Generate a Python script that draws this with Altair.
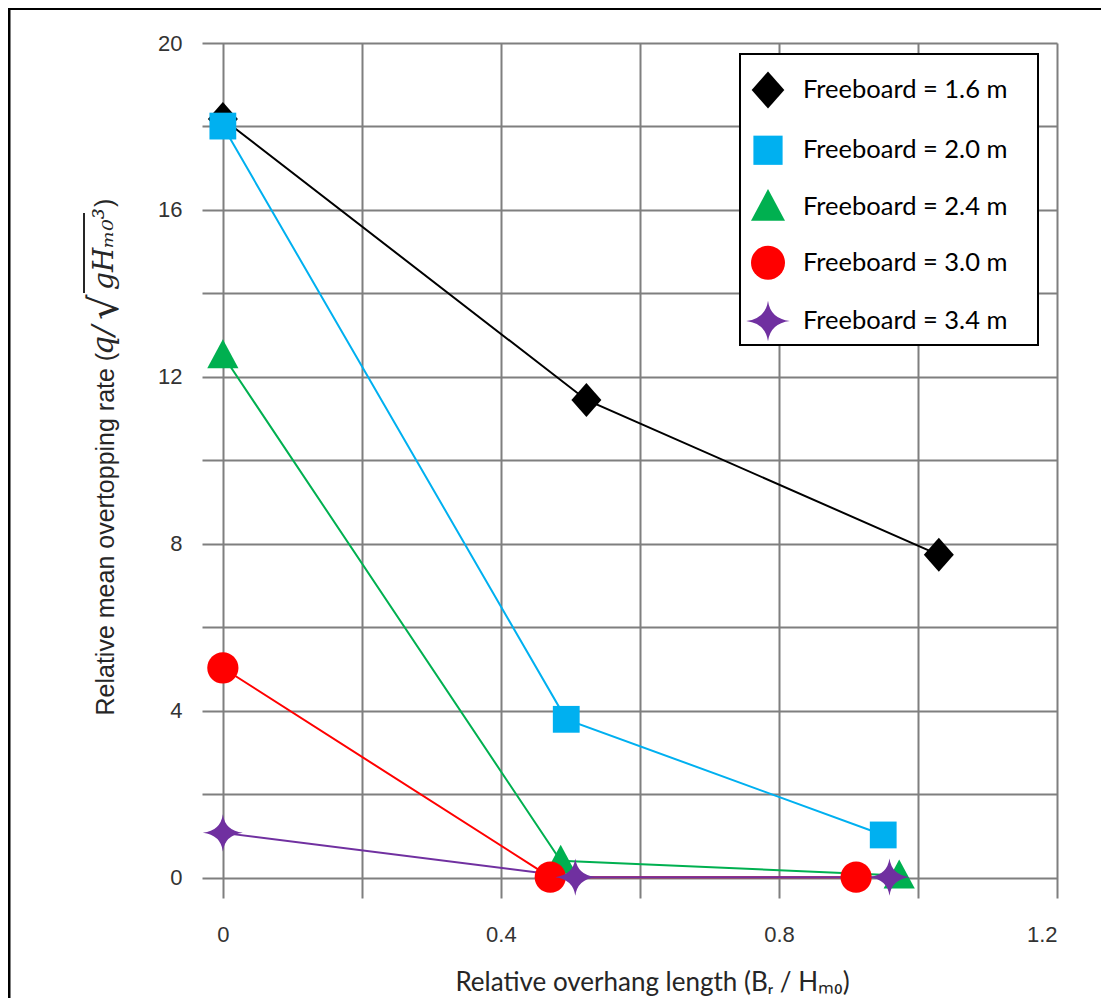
import altair as alt
import pandas as pd

series = ["Freeboard = 1.6 m", "Freeboard = 2.0 m", "Freeboard = 2.4 m",
          "Freeboard = 3.0 m", "Freeboard = 3.4 m"]
x_16 = [0.0, 0.523, 1.030]
y_16 = [18.18, 11.45, 7.74]
x_20 = [0.0, 0.494, 0.950]
y_20 = [18.01, 3.80, 1.03]
x_24 = [0.0, 0.486, 0.973]
y_24 = [12.52, 0.41, 0.06]
x_30 = [0.0, 0.471, 0.911]
y_30 = [5.03, 0.02, 0.02]
x_34 = [0.0, 0.507, 0.959]
y_34 = [1.08, 0.02, 0.02]

x_grid = [0, 0.2, 0.4, 0.6, 0.8, 1.0, 1.2]
x_labels = ["0", "0.4", "0.8", "1.2"]
y_grid = [0, 2, 4, 6, 8, 10, 12, 14, 16, 18, 20]

colors = ["#000000", "#00b0f0", "#00b050", "#ff0000", "#7030a0"]
shapes = [
    "M0,-0.85L0.75,0L0,0.85L-0.75,0Z",
    "M-0.67,-0.67L0.67,-0.67L0.67,0.67L-0.67,0.67Z",
    "M0,-0.8L0.78,0.65L-0.78,0.65Z",
    "M0.78,0A0.78,0.78,0,1,1,-0.78,0A0.78,0.78,0,1,1,0.78,0Z",
    "M0,-0.93Q0.11,-0.11,1,0Q0.11,0.11,0,0.93Q-0.11,0.11,-1,0Q-0.11,-0.11,0,-0.93Z",
]

rows = []
for name, xs, ys in zip(series, [x_16, x_20, x_24, x_30, x_34],
                        [y_16, y_20, y_24, y_30, y_34]):
    for i, (xv, yv) in enumerate(zip(xs, ys)):
        rows.append({"series": name, "x": xv, "y": yv, "order": i})
df = pd.DataFrame(rows)

W, H = 855, 855
xscale = alt.Scale(domain=[-0.03, 1.2], nice=False, zero=False)
yscale = alt.Scale(domain=[-0.48, 20], nice=False, zero=False)
cscale = alt.Scale(domain=series, range=colors)
sscale = alt.Scale(domain=series, range=shapes)

x_enc = alt.X("x:Q", scale=xscale, axis=alt.Axis(
    values=x_grid, format="~g",
    labelExpr="indexof(" + str(x_labels) + ", datum.label) >= 0 ? datum.label : ''",
    title="Relative overhang length (Bᵣ / Hₘ₀)",
    titleX=450, titleY=92, titleBaseline="alphabetic", titleAnchor="start",
    titleAlign="center", labelPadding=26))
y_enc = alt.Y("y:Q", scale=yscale, axis=alt.Axis(
    values=y_grid,
    labelExpr="datum.value % 4 == 0 ? datum.label : ''",
    title="Relative mean overtopping rate (",
    titleAngle=270, titleX=-89, titleY=672, titleAlign="left",
    titleBaseline="alphabetic", labelPadding=20))

leg = alt.Legend(title=None, orient="none", legendX=544, legendY=25,
                 symbolSize=1900, rowPadding=19.25, labelOffset=13)

one = pd.DataFrame({"a": [0]})

frame_left = alt.Chart(one).mark_rule(color="black", strokeWidth=3).encode(
    x=alt.value(-193), y=alt.value(-35), y2=alt.value(1000))
frame_top = alt.Chart(one).mark_rule(color="black", strokeWidth=3).encode(
    x=alt.value(-194), x2=alt.value(910), y=alt.value(-34.5))
legend_box = alt.Chart(one).mark_rect(fill="white", stroke="black", strokeWidth=2).encode(
    x=alt.value(538), x2=alt.value(836), y=alt.value(11), y2=alt.value(302))

tcol = "#262626"
math_q = alt.Chart(one).mark_text(
    text="q/", font="DejaVu Serif", fontStyle="italic", fontSize=30,
    angle=270, align="left", baseline="alphabetic", color=tcol).encode(
    x=alt.value(-89), y=alt.value(312))
math_sqrt = alt.Chart(one).mark_text(
    text="√", font="DejaVu Sans", fontSize=40,
    angle=270, align="left", baseline="alphabetic", color=tcol).encode(
    x=alt.value(-84), y=alt.value(277))
math_g = alt.Chart(one).mark_text(
    text="gHₘ₀³", font="DejaVu Serif", fontStyle="italic", fontSize=28,
    angle=270, align="left", baseline="alphabetic", color=tcol).encode(
    x=alt.value(-89), y=alt.value(247))
math_close = alt.Chart(one).mark_text(
    text=")", font="Liberation Sans", fontSize=25,
    angle=270, align="left", baseline="alphabetic", color=tcol).encode(
    x=alt.value(-89), y=alt.value(164))
math_bar = alt.Chart(one).mark_rule(color=tcol, strokeWidth=2).encode(
    x=alt.value(-118), y=alt.value(250), y2=alt.value(170))

base = alt.Chart(df)
lines = base.mark_line(strokeWidth=2).encode(
    x=x_enc, y=y_enc,
    color=alt.Color("series:N", scale=cscale, legend=leg),
    detail="series:N",
    order="order:Q",
)
points = base.mark_point(filled=True, size=1600, opacity=1, strokeWidth=0).encode(
    x=x_enc, y=y_enc,
    color=alt.Color("series:N", scale=cscale, legend=leg),
    shape=alt.Shape("series:N", scale=sscale, legend=leg),
)

chart = alt.layer(legend_box, lines, points, math_q, math_sqrt, math_g, math_close,
                  math_bar, frame_left, frame_top).properties(
    width=W, height=H,
    autosize=alt.AutoSizeParams(type="none"),
    padding={"left": 194, "top": 35, "right": 44, "bottom": 100},
).configure_view(stroke=None).configure_axis(
    grid=True, gridColor="#7f7f7f", gridWidth=2, gridOpacity=1,
    domain=False, ticks=False, tickSize=0,
    labelFont="Liberation Sans", labelFontSize=22, labelColor="#333333",
    titleFont="Lato", titleFontSize=26, titleFontWeight="normal", titleColor="#262626",
).configure_axisY(
    titleFont="Liberation Sans", titleFontSize=25,
).configure_legend(
    padding=0, symbolStrokeWidth=0,
    labelFont="Lato", labelFontSize=25.5, labelColor="#000000",
    labelLimit=400,
)

chart.save("out.html", embed_options={"renderer": "svg", "actions": False})
